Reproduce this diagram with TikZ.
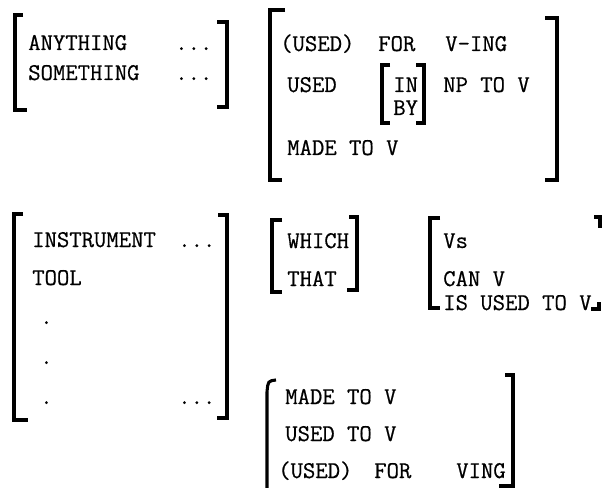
\documentclass[tikz,border=0pt]{standalone}
\usepackage{fontspec}
\setmonofont{Latin Modern Mono}[FakeBold=0.6]
\usepackage{tikz}

\begin{document}
\begin{tikzpicture}[x=0.75pt,y=-0.75pt,
  brk/.style={line width=2.3pt,line cap=butt,line join=miter},
  word/.style={anchor=base west,inner sep=0pt,font=\fontsize{18}{20}\selectfont\ttfamily}]
\useasboundingbox (0,0) rectangle (602,488);
% first row, left
\draw[brk] (23,15)--(15,15)--(15,110)--(27,110);
\draw[brk] (217,22)--(227,22)--(227,107)--(217,107);
\node[word] (anything) at (28,50) {ANYTHING};
\node[word] (anydots) at (175,50) {...};
\node[word] (something) at (28,80) {SOMETHING};
\node[word] (somedots) at (175,80) {...};
% first row, right
\draw[brk] (285,10)--(270,10)--(270,180)--(282,180);
\draw[brk] (545,18)--(557,18)--(557,180)--(545,180);
\node[word] (usedA) at (280,51) {(USED)};
\node[word] (forA) at (378,51) {FOR};
\node[word] (vingA) at (445,51) {V-ING};
\node[word] (used) at (287,92) {USED};
\draw[brk] (390,65)--(382,65)--(382,123)--(390,123);
\draw[brk] (416,65)--(424,65)--(424,123)--(416,123);
\node[word] (in) at (393,92) {IN};
\node[word] (by) at (393,115) {BY};
\node[word] (np) at (443,92) {NP TO V};
\node[word] (madeA) at (287,155) {MADE TO V};
% second row, left
\draw[brk] (23,214)--(14,214)--(14,420)--(28,420);
\draw[brk] (218,215)--(227,215)--(227,418)--(217,418);
\node[word] (instrument) at (32,247) {INSTRUMENT};
\node[word] (instdots) at (178,247) {...};
\node[word] (tool) at (32,285) {TOOL};
\node[word] (dotA) at (40,324) {.};
\node[word] (dotB) at (40,364) {.};
\node[word] (dotC) at (40,404) {.};
\node[word] (lastdots) at (178,404) {...};
% which / that
\draw[brk] (282,220)--(272,220)--(272,292)--(282,292);
\draw[brk] (349,217)--(357,217)--(357,290)--(347,290);
\node[word] (which) at (287,248) {WHICH};
\node[word] (that) at (287,286) {THAT};
% verb forms
\draw[brk] (440,218)--(430,218)--(430,308)--(440,308);
\draw[brk] (594,217)--(600,217)--(600,228);
\draw[brk] (599,302)--(599,309)--(591,309);
\node[word] (vs) at (443,248) {Vs};
\node[word] (canv) at (443,286) {CAN V};
\node[word] (isused) at (443,310) {IS USED TO V};
% second row, bottom
\draw[brk] (276,380) .. controls (268,381) .. (267,392) -- (267,488);
\draw[brk] (505,375)--(513,375)--(513,486)--(499,486);
\node[word] (madeB) at (285,404) {MADE TO V};
\node[word] (usedto) at (285,441) {USED TO V};
\node[word] (usedB) at (278,478) {(USED)};
\node[word] (forB) at (374,478) {FOR};
\node[word] (vingB) at (456,478) {VING};
\end{tikzpicture}
\end{document}
